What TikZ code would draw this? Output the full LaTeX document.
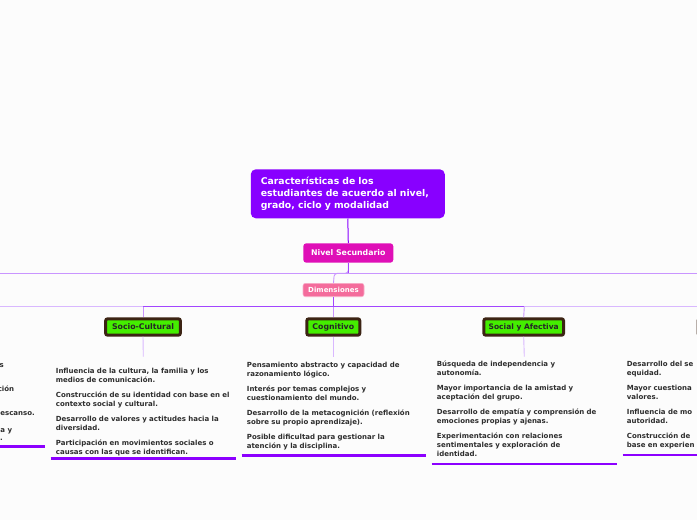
\documentclass[tikz,border=0pt]{standalone}
\usepackage{fontspec}
\setmainfont{DejaVu Sans}
\definecolor{cBg}{HTML}{FCFCFC}
\definecolor{cTitle}{HTML}{8800FF}
\definecolor{cNivel}{HTML}{DF0FB7}
\definecolor{cDim}{HTML}{F46C9C}
\definecolor{cGreen}{HTML}{44EE00}
\definecolor{cBrown}{HTML}{3C2414}
\definecolor{cLight}{HTML}{C995FF}
\definecolor{cPale}{HTML}{D9B8FF}
\definecolor{cMid}{HTML}{A246FF}
\definecolor{cLine}{HTML}{8C00FF}
\definecolor{cText}{HTML}{2E2E2E}
\tikzset{
  titlebox/.style={fill=cTitle, rounded corners=5pt, minimum width=194pt, minimum height=49pt,
    text width=174pt, align=left, inner sep=0pt, text=white,
    font=\bfseries\fontsize{9.3}{11.6}\selectfont},
  nivelbox/.style={fill=cNivel, rounded corners=3pt, minimum width=90pt, minimum height=19.4pt,
    inner sep=0pt, text=white, font=\bfseries\fontsize{7.8}{9}\selectfont},
  dimbox/.style={fill=cDim, draw=cDim!55!white, line width=0.6pt, rounded corners=2.5pt,
    minimum width=61pt, minimum height=13.4pt, inner sep=0pt, text=white,
    font=\bfseries\fontsize{7}{8}\selectfont},
  catbox/.style={fill=cGreen, draw=cBrown, line width=3pt, rounded corners=2pt,
    minimum height=16.4pt, inner sep=0pt, text=black!85,
    font=\bfseries\fontsize{7.8}{9}\selectfont},
  itemtext/.style={anchor=north west, text width=190pt, align=left, inner sep=0pt, text=cText,
    font=\bfseries\fontsize{7}{9}\selectfont},
  fragtext/.style={anchor=base east, inner sep=0pt, text=cText,
    font=\bfseries\fontsize{7}{9}\selectfont},
  lightline/.style={draw=cLight, line width=0.9pt},
  paleline/.style={draw=cPale, line width=0.9pt},
  midline/.style={draw=cMid, line width=0.9pt},
  darkline/.style={draw=cTitle, line width=1pt},
  uline/.style={draw=cLine, line width=2.6pt},
}
\begin{document}
\begin{tikzpicture}[x=1pt,y=-1pt]
\useasboundingbox (0,0) rectangle (697,520);
\fill[cBg] (0,0) rectangle (697,520);
\begin{scope}
\clip (0,0) rectangle (697,520);

% nodes
\node[titlebox] (title) at (347.8,193.8) {Características de los\\estudiantes de acuerdo al nivel,\\grado, ciclo y modalidad};
\node[nivelbox] (nivel) at (348.3,253) {Nivel Secundario};
\node[dimbox] (dim) at (333.5,290) {Dimensiones};

\node[catbox, minimum width=74.7pt] (soc) at (143,327) {Socio-Cultural};
\node[catbox, minimum width=53pt] (cog) at (333.3,327) {Cognitivo};
\node[catbox, minimum width=79.7pt, font=\bfseries\fontsize{7.5}{9}\selectfont] (afe) at (523.7,327) {Social y Afectiva};
\node[catbox, minimum width=80pt] (right) at (738,327) {};

% rails
\coordinate (rA1) at (0,273.3);
\coordinate (rA2) at (697,273.3);
\coordinate (rB1) at (0,306.7);
\coordinate (rB2) at (697,306.7);
\coordinate (rBm1) at (143,306.7);
\coordinate (rBm2) at (524.3,306.7);
\draw[lightline] (rA1) -- (rA2);
\draw[paleline] (rB1) -- (rB2);
\draw[midline] (rBm1) -- (rBm2);

% connectors
\draw[darkline] (title.south) -- (nivel.north);
\draw[lightline, rounded corners=3pt] (nivel.south) |- (334.3,273.3) -- (dim.north);
\draw[midline] (nivel.south) -- (348.3,273.3);
\draw[midline] (dim.south) -- (333.5,306.7);
\draw[lightline] (143,306.7) -- (soc.north);
\draw[lightline] (333.3,306.7) -- (cog.north);
\draw[lightline] (524.3,306.7) -- (afe.north);

\coordinate (socEnd) at (143.3,356.7);
\coordinate (cogEnd) at (333.3,356.7);
\coordinate (afeEnd) at (524.3,356.7);
\draw[paleline] (soc.south) -- (socEnd);
\draw[paleline] (cog.south) -- (cogEnd);
\draw[paleline] (afe.south) -- (afeEnd);

% text blocks
\node[itemtext] (socT) at (55.7,368.3) {Influencia de la cultura, la familia y los\\medios de comunicación.\\[6pt]Construcción de su identidad con base en el\\contexto social y cultural.\\[6pt]Desarrollo de valores y actitudes hacia la\\diversidad.\\[6pt]Participación en movimientos sociales o\\causas con las que se identifican.};
\node[itemtext] (cogT) at (246.7,361.9) {Pensamiento abstracto y capacidad de\\razonamiento lógico.\\[6pt]Interés por temas complejos y\\cuestionamiento del mundo.\\[6pt]Desarrollo de la metacognición (reflexión\\sobre su propio aprendizaje).\\[6pt]Posible dificultad para gestionar la\\atención y la disciplina.};
\node[itemtext] (afeT) at (436.7,360.6) {Búsqueda de independencia y\\autonomía.\\[6pt]Mayor importancia de la amistad y\\aceptación del grupo.\\[6pt]Desarrollo de empatía y comprensión de\\emociones propias y ajenas.\\[6pt]Experimentación con relaciones\\sentimentales y exploración de\\identidad.};
\node[itemtext] (rightT) at (626.7,360.9) {Desarrollo del se\\equidad.\\[6pt]Mayor cuestiona\\valores.\\[6pt]Influencia de mo\\autoridad.\\[6pt]Construcción de\\base en experien};

% left fragments
\node[fragtext] (lf1) at (4,367) {s};
\node[fragtext] (lf2) at (14.3,391.3) {ción};
\node[fragtext] (lf3) at (35,415.3) {escanso.};
\node[fragtext] (lf4) at (12.3,432) {a y};
\node[fragtext] (lf5) at (3,440.6) {.};

% underlines
\coordinate (uL1) at (0,446.7);   \coordinate (uL2) at (45,446.7);
\coordinate (uS1) at (50.7,458.3); \coordinate (uS2) at (235.7,458.3);
\coordinate (uC1) at (241.7,455.3); \coordinate (uC2) at (426,455.3);
\coordinate (uA1) at (431.7,464); \coordinate (uA2) at (616.7,464);
\coordinate (uR1) at (622.7,455); \coordinate (uR2) at (697,455);
\draw[uline] (uL1) -- (uL2);
\draw[uline] (uS1) -- (uS2);
\draw[uline] (uC1) -- (uC2);
\draw[uline] (uA1) -- (uA2);
\draw[uline] (uR1) -- (uR2);
\end{scope}
\end{tikzpicture}
\end{document}
